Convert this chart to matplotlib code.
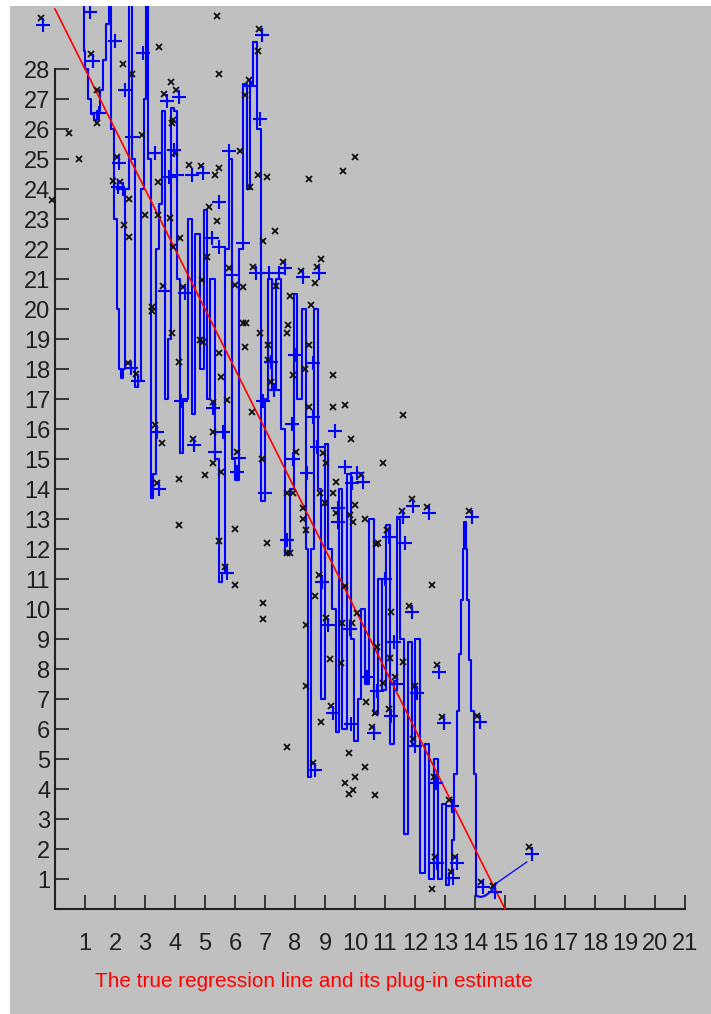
import matplotlib
matplotlib.use("Agg")
import matplotlib.pyplot as plt

plt.rcParams['font.family'] = ['Liberation Sans Narrow', 'Liberation Sans', 'DejaVu Sans']

# observed data points (black x)
obs_x = [-0.48, 5.41, 6.81, 3.46, 1.19, 2.28, 6.77, 5.47, 2.56, 3.86, 4.03, 3.63, 6.46, 6.34,
         1.39, 1.39, 3.89, 3.92, 0.46, 0.79, 2.89, 4.0, 6.17, 2.06, 4.48, 4.87, 5.33, 5.48,
         6.78, 7.08, 1.92, 2.17, 3.44, 6.5, -0.11, 2.48, 5.14, 3.0, 3.44, 3.83, 5.39, 2.3,
         7.33, 4.17, 2.48, 6.94, 3.94, 5.08, 5.81, 6.61, 7.61, 4.89, 3.59, 4.26, 6.0, 6.28,
         7.37,
         10.01, 9.61, 8.48, 8.87, 8.72, 8.2, 8.67, 7.83,
         3.22, 3.22, 3.9, 2.44, 2.7, 4.14, 4.83, 4.92, 5.48, 5.53, 6.26, 6.37, 6.33, 6.83,
         7.11, 7.11, 7.19, 7.72, 7.78, 5.26, 5.74, 6.56, 3.33, 3.56, 4.59, 5.26, 6.06, 5.26,
         6.9, 5.0, 4.14, 5.52, 3.39, 7.72, 4.14, 6.0, 5.48, 7.06, 7.72, 5.67, 6.0,
         8.52, 8.48, 8.33, 9.28, 7.92, 9.28, 9.67, 11.61, 8.48, 9.87, 8.03, 8.94, 9.03, 10.94,
         10.2, 9.37, 7.92, 8.83, 9.28, 9.0, 10.0, 9.37, 9.83, 10.33, 8.28, 8.28, 9.94, 11.89,
         12.39, 11.56, 13.81, 11.08, 10.7, 10.75, 8.37, 7.83, 8.81, 12.56, 9.67, 8.67,
         6.94, 6.94, 7.72,
         8.37, 9.03, 9.56, 9.89, 10.06, 11.19, 11.81, 10.74, 9.17, 9.52, 11.61, 11.17, 12.74,
         8.37, 11.33, 10.92, 12.0, 10.37, 9.19, 11.14, 10.67, 8.87, 10.56, 12.89, 14.08, 11.94,
         9.81, 10.33, 10.0, 9.67, 9.92, 9.81, 10.67, 8.59, 12.63, 13.14, 12.67, 13.33, 13.19,
         12.56, 14.19, 14.61, 15.81]
obs_y = [29.7, 29.77, 29.35, 28.74, 28.5, 28.17, 28.61, 27.82, 27.83, 27.57, 27.3, 27.16, 27.63, 27.13,
         27.3, 26.21, 26.19, 26.3, 25.88, 25.0, 25.8, 25.2, 25.28, 25.08, 24.8, 24.77, 24.47, 24.69,
         24.47, 24.41, 24.28, 24.24, 24.24, 24.08, 23.63, 23.66, 23.39, 23.13, 23.13, 23.02, 22.94, 22.8,
         22.61, 22.36, 22.39, 22.28, 22.08, 21.74, 21.36, 21.41, 21.58, 20.97, 20.77, 20.74, 20.8, 20.74,
         20.77,
         25.08, 24.6, 24.33, 21.67, 21.41, 21.28, 20.86, 20.43,
         20.08, 19.95, 19.19, 18.21, 17.83, 18.24, 18.97, 18.9, 18.52, 17.74, 19.52, 19.52, 18.74, 19.19,
         18.8, 18.3, 17.58, 19.19, 19.47, 16.91, 16.97, 16.58, 16.13, 15.52, 15.66, 15.91, 15.24, 14.86,
         14.99, 14.47, 14.32, 14.58, 14.21, 13.86, 12.8, 12.66, 12.28, 12.19, 11.86, 11.41, 10.8,
         20.13, 18.8, 18.0, 17.8, 17.8, 16.74, 16.8, 16.47, 16.74, 15.66, 15.24, 15.19, 14.86, 14.86,
         14.47, 14.24, 13.86, 13.86, 13.86, 13.52, 13.47, 13.19, 13.13, 12.99, 13.36, 12.99, 12.91, 13.67,
         13.41, 13.27, 13.27, 12.63, 12.17, 12.2, 12.63, 11.86, 11.13, 10.8, 10.77, 10.43,
         10.19, 9.66, 5.41,
         9.47, 9.69, 9.52, 9.52, 9.88, 9.91, 10.1, 8.74, 8.32, 8.19, 8.24, 8.36, 8.13,
         7.43, 7.72, 7.52, 7.43, 6.91, 6.77, 6.66, 6.52, 6.24, 6.06, 6.39, 6.43, 5.66,
         5.19, 4.72, 4.39, 4.19, 3.97, 3.84, 3.8, 4.86, 4.41, 3.63, 1.72, 1.72, 1.24,
         0.66, 0.91, 0.77, 2.06]

# plug-in estimates at the observations (blue +)
fit_x = [-0.41, 6.89, 1.28, 3.72, 4.14, 6.5, 2.34, 1.48, 6.83, 2.56, 3.33, 3.98, 5.81, 2.14,
         4.56, 4.94, 4.06, 3.8, 2.11, 2.25, 5.48, 5.22, 5.48, 6.26, 5.9, 6.7, 7.14, 7.45, 7.67,
         3.68, 4.33, 1.17, 2.0, 2.94,
         8.81, 8.28,
         2.52, 2.78, 7.2, 7.3, 4.2, 5.26, 6.92, 3.39, 4.63, 5.59, 6.12, 5.33, 6.08, 3.48, 7.0,
         7.72, 5.74,
         8.0, 8.59, 8.59, 7.89, 9.33, 8.72, 7.94, 9.67, 10.06, 10.28, 9.89, 8.39, 9.44, 9.44,
         11.94, 12.48, 11.61, 13.89, 11.14, 11.67, 11.0, 8.9,
         9.1, 9.83, 11.9, 11.3, 12.81, 10.41, 11.4, 10.74, 12.07, 9.26, 11.21, 9.86, 10.63,
         12.96, 14.15, 12.01, 8.67, 12.7, 13.24, 12.74, 13.4, 13.27, 14.25, 14.67, 15.9]
fit_y = [29.47, 29.15, 28.27, 26.94, 27.08, 27.43, 27.3, 26.54, 26.35, 25.74, 25.21, 25.3, 25.28, 24.88,
         24.47, 24.54, 24.47, 24.4, 24.08, 24.0, 23.58, 22.36, 22.06, 22.21, 21.15, 21.2, 21.21, 21.2, 21.36,
         20.6, 20.55, 29.9, 28.94, 28.53,
         21.19, 21.06,
         18.02, 17.6, 18.25, 17.3, 16.94, 16.69, 16.94, 15.91, 15.47, 15.91, 15.05, 15.24, 14.58, 13.99, 13.88,
         12.3, 11.19,
         18.47, 18.21, 16.41, 16.17, 15.93, 15.41, 14.99, 14.74, 14.54, 14.24, 14.21, 14.52, 13.36, 12.9,
         13.43, 13.19, 13.06, 13.06, 12.39, 12.19, 10.99, 10.9,
         9.47, 9.32, 9.9, 8.91, 7.91, 7.72, 7.5, 7.28, 7.2, 6.55, 6.45, 6.16, 5.86,
         6.2, 6.23, 5.45, 4.63, 4.2, 3.43, 1.52, 1.55, 1.05, 0.72, 0.58, 1.83]

# plug-in estimate curve (staircase part)
est_x = [0.93, 0.97, 1.05, 1.15, 1.25, 1.35, 1.45, 1.55, 1.65, 1.75, 1.83, 1.9, 2.0, 2.1, 2.16, 2.22,
         2.3, 2.4, 2.5, 2.6, 2.7, 2.8, 2.9, 3.0, 3.08, 3.15, 3.22, 3.3, 3.4, 3.5, 3.6, 3.7,
         3.82, 3.92, 4.0, 4.1, 4.2, 4.35, 4.5, 4.6, 4.75, 4.9, 5.0, 5.1, 5.25, 5.4, 5.5, 5.6,
         5.75, 5.85, 5.95, 6.05, 6.2, 6.35, 6.45, 6.55, 6.65, 6.8, 6.95, 7.05, 7.15, 7.3, 7.45,
         7.6, 7.75, 7.9, 8.0, 8.15, 8.3, 8.4, 8.47, 8.6, 8.7, 8.8, 8.95, 9.05, 9.15, 9.3, 9.4,
         9.5, 9.65, 9.8, 9.9, 10.05, 10.15, 10.25, 10.4, 10.55, 10.7, 10.85, 10.95, 11.1, 11.25,
         11.35, 11.45, 11.55, 11.7, 11.85, 11.95, 12.05, 12.25, 12.4, 12.55, 12.7, 12.85, 12.95,
         13.1, 13.2, 13.27, 13.35, 13.43, 13.5, 13.57, 13.62, 13.67, 13.72, 13.77, 13.83, 13.93,
         14.0, 14.07]
est_y = [31.0, 28.6, 28.0, 27.0, 26.5, 26.3, 26.6, 27.3, 28.3, 29.5, 31.0, 26.0, 23.0, 20.0, 18.0, 17.7,
         18.0, 24.0, 31.0, 25.0, 17.4, 17.6, 24.0, 27.0, 31.0, 25.0, 13.7, 14.5, 22.0, 23.5, 26.6, 17.0,
         19.0, 26.7, 26.6, 21.0, 15.2, 17.0, 23.0, 16.5, 22.5, 18.0, 23.3, 17.0, 21.0, 15.0, 10.9, 11.2,
         22.0, 25.0, 15.0, 14.3, 22.0, 27.5, 24.0, 27.5, 28.9, 26.0, 13.6, 17.0, 21.0, 17.3, 21.0,
         16.0, 11.85, 14.0, 20.5, 17.0, 20.0, 12.0, 4.4, 12.0, 20.0, 14.0, 7.0, 15.5, 12.0, 10.0, 5.9,
         14.0, 6.0, 14.5, 9.0, 5.6, 7.0, 10.0, 7.5, 13.0, 6.5, 11.0, 7.3, 12.8, 5.5,
         7.6, 13.0, 9.0, 2.5, 8.9, 5.5, 9.0, 1.2, 5.5, 1.0, 5.0, 1.0, 3.5,
         0.8, 1.2, 2.3, 4.5, 6.6, 8.5, 10.3, 12.0, 12.9, 12.0, 10.3, 8.3, 6.6,
         4.5, 0.43]

# plug-in estimate curve (right tail)
tail_x = [14.07, 14.2, 14.35, 14.55, 14.7, 15.73]
tail_y = [0.43, 0.4, 0.45, 0.6, 0.85, 1.57]

# true regression line
true_x = [0, 15]
true_y = [30, 0]

xticks = list(range(1, 22))
yticks = list(range(1, 29))
title = "The true regression line and its plug-in estimate"

W, H = 711, 1014
fig = plt.figure(figsize=(W / 100, H / 100), dpi=100, facecolor='white')
ax = fig.add_axes([10 / W, 0, 701 / W, 1008 / H])
ax.set_facecolor('#C0C0C0')
ax.set_xlim((10 - 55) / 30, (711 - 55) / 30)
ax.set_ylim((909 - 1014) / 30, (909 - 6) / 30)

ax.plot(est_x, est_y, color='#0000FF', lw=1.5, drawstyle='steps-mid', zorder=2)
ax.plot(tail_x[:-1], tail_y[:-1], color='#0000FF', lw=1.5, zorder=2)
ax.plot(tail_x[-2:], tail_y[-2:], color='#0000FF', lw=0.9, zorder=2)
ax.plot(true_x, true_y, color='#FF0000', lw=1.2, zorder=3)
ax.plot(obs_x, obs_y, 'x', color='#101010', ms=4.2, mew=1.3, zorder=4)
ax.plot(fit_x, fit_y, '+', color='#0000FF', ms=9.5, mew=1.5, zorder=5)

for s in ['top', 'right']:
    ax.spines[s].set_visible(False)
ax.spines['left'].set_position(('data', 0))
ax.spines['bottom'].set_position(('data', 0))
ax.spines['left'].set_bounds(0, 28)
ax.spines['bottom'].set_bounds(0, 21)
for s in ['left', 'bottom']:
    ax.spines[s].set_color('#202020')
    ax.spines[s].set_linewidth(1.5)

ax.set_xticks(xticks)
ax.set_yticks(yticks)
ax.tick_params(axis='x', direction='in', length=10, width=1.2, color='#202020',
               pad=17, labelsize=17, labelcolor='#202020')
ax.tick_params(axis='y', direction='in', length=10, width=1.2, color='#202020',
               pad=3.5, labelsize=17, labelcolor='#202020')

t = fig.text(95 / W, 1 - 987 / H, title, color='#FF0000', fontsize=17,
             ha='left', va='baseline')
# shrink the caption so it spans the same width as the reference
fig.canvas.draw()
w = t.get_window_extent().width
t.set_fontsize(17 * 438 / w)

fig.savefig('out.png', dpi=100, facecolor='white')
